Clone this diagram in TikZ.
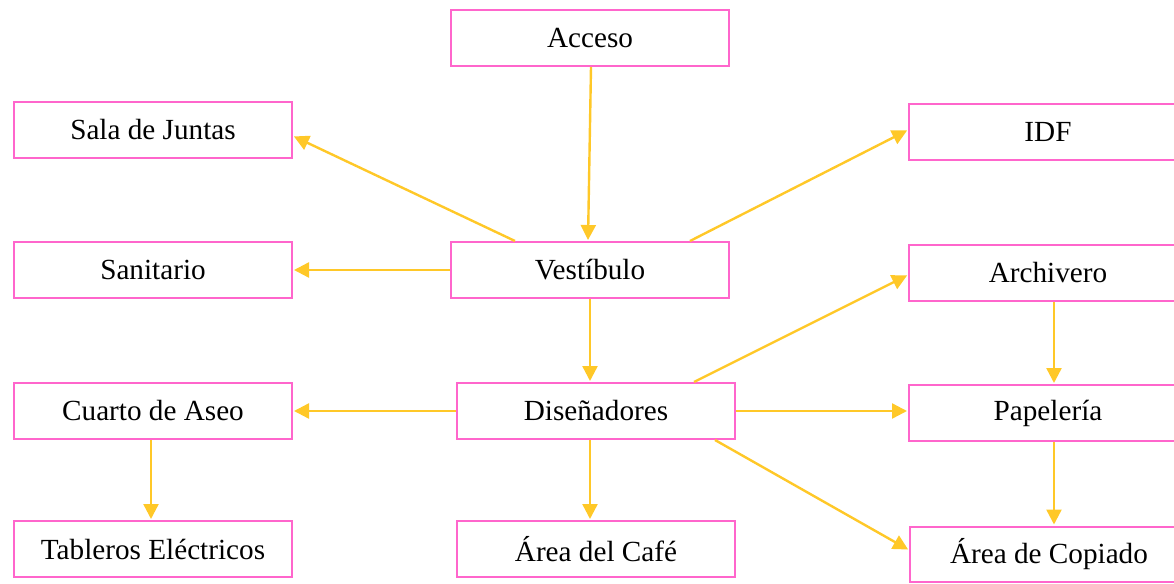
\documentclass[tikz,border=0pt]{standalone}
\usepackage{fontspec}
\setmainfont{Liberation Serif}
\usetikzlibrary{arrows.meta,positioning}
\definecolor{esquemaPink}{RGB}{255, 102, 204}
\definecolor{esquemaYellow}{RGB}{255, 200, 40}

\begin{document}
\begin{tikzpicture}[
  x=0.5pt, y=-0.5pt,
  space/.style={
    draw=esquemaPink,
    line width=1pt,
    fill=white,
    minimum width=139pt,
    minimum height=28pt,
    inner sep=0pt,
    align=center,
    font=\fontsize{14.6}{16}\selectfont
  },
  arrow/.style={-{Triangle[length=7.5pt,width=7.5pt]},line width=1.2pt,esquemaYellow,shorten >=0.5pt}
]
  \path[use as bounding box,clip] (0,0) rectangle (1174,584);
  \node[space] (acceso) at (590,38) {Acceso};
  \node[space] (sala) at (153,130) {Sala de Juntas};
  \node[space] (idf) at (1048,132) {IDF};
  \node[space] (sanitario) at (153,270) {Sanitario};
  \node[space] (vestibulo) at (590,270) {Vestíbulo};
  \node[space] (archivero) at (1048,273) {Archivero};
  \node[space] (aseo) at (153,411) {Cuarto de Aseo};
  \node[space] (disenadores) at (596,411) {Diseñadores};
  \node[space] (papeleria) at (1048,413) {Papelería};
  \node[space] (tableros) at (153,549) {Tableros Eléctricos};
  \node[space] (cafe) at (596,549) {Área del Café};
  \node[space,minimum height=27.5pt] (copiado) at (1049,554) {Área de Copiado};
  \draw[arrow] ([xshift=0.5pt]acceso.south) -- ([xshift=-1pt]vestibulo.north);
  \draw[arrow] ([xshift=-37.5pt]vestibulo.north) -- ([yshift=-3pt]sala.east);
  \draw[arrow] (vestibulo.west) -- (sanitario.east);
  \draw[arrow] ([xshift=50pt]vestibulo.north) -- ([yshift=1pt]idf.west);
  \draw[arrow] (vestibulo.south) -- ([xshift=-3pt]disenadores.north);
  \draw[arrow] ([xshift=49pt]disenadores.north) -- ([yshift=-1pt]archivero.west);
  \draw[arrow] (disenadores.west) -- (aseo.east);
  \draw[arrow] (disenadores.east) -- ([yshift=1pt]papeleria.west);
  \draw[arrow] ([xshift=-3pt]disenadores.south) -- ([xshift=-3pt]cafe.north);
  \draw[arrow] ([xshift=59.5pt]disenadores.south) -- ([yshift=2pt]copiado.west);
  \draw[arrow] ([xshift=3pt]archivero.south) -- ([xshift=3pt]papeleria.north);
  \draw[arrow] ([xshift=3pt]papeleria.south) -- ([xshift=2.5pt]copiado.north);
  \draw[arrow] ([xshift=-1pt]aseo.south) -- ([xshift=-1pt]tableros.north);
\end{tikzpicture}
\end{document}
